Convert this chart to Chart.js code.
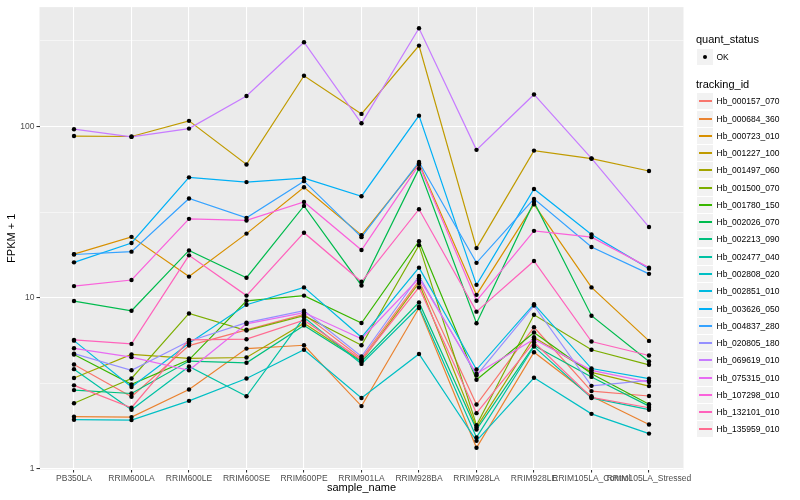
<!DOCTYPE html>
<html><head><meta charset="utf-8">
<script src="https://cdn.jsdelivr.net/npm/chart.js@4"></script>
<style>
html,body{margin:0;padding:0;background:#fff;}
#wrap{position:relative;width:800px;height:500px;font-family:"Liberation Sans",Arial,sans-serif;overflow:hidden;}
#c{position:absolute;left:0;top:0;}
.lg{position:absolute;white-space:nowrap;}
</style></head><body>
<div id="wrap"><canvas id="c" width="800" height="500"></canvas><div id="legend"></div></div>
<script>
const categories = ["PB350LA","RRIM600LA","RRIM600LE","RRIM600SE","RRIM600PE","RRIM901LA","RRIM928BA","RRIM928LA","RRIM928LE","RRIM105LA_Control","RRIM105LA_Stressed"];
const trackingIds = ["Hb_000157_070","Hb_000684_360","Hb_000723_010","Hb_001227_100","Hb_001497_060","Hb_001500_070","Hb_001780_150","Hb_002026_070","Hb_002213_090","Hb_002477_040","Hb_002808_020","Hb_002851_010","Hb_003626_050","Hb_004837_280","Hb_020805_180","Hb_069619_010","Hb_075315_010","Hb_107298_010","Hb_132101_010","Hb_135959_010"];
const seriesColors = ["#F8766D","#EA8331","#D89000","#C09B00","#A3A500","#7CAE00","#39B600","#00BB4E","#00BF7D","#00C1A3","#00BFC4","#00BAE0","#00B0F6","#35A2FF","#9590FF","#C77CFF","#E76BF3","#FA62DB","#FF62BC","#FF6C91"];

const Hb_000157_070 = [4.08, 2.64, 5.26, 6.5, 8.0, 4.42, 12.6, 2.38, 6.73, 2.85, 2.67];
const Hb_000684_360 = [2.02, 2.01, 2.91, 5.05, 5.28, 2.33, 8.71, 1.33, 4.81, 2.66, 1.82];
const Hb_000723_010 = [18.0, 22.7, 13.3, 23.7, 44.2, 23.2, 61, 10.4, 35.1, 11.5, 5.6];
const Hb_001227_100 = [88, 87.5, 108, 60.1, 198, 118.6, 297, 19.5, 72.4, 64.9, 55];
const Hb_001497_060 = [3.40, 4.67, 4.43, 4.48, 7.1, 4.28, 12.2, 1.75, 5.88, 3.67, 3.05];
const Hb_001500_070 = [2.42, 3.38, 8.1, 6.43, 7.86, 5.28, 20.3, 1.80, 7.96, 4.97, 4.06];
const Hb_001780_150 = [4.66, 3.12, 4.34, 9.6, 10.3, 7.12, 21.4, 3.32, 6.27, 3.60, 2.39];
const Hb_002026_070 = [9.57, 8.4, 18.9, 13.1, 34.4, 11.8, 56.8, 7.1, 36.3, 7.86, 4.25];
const Hb_002213_090 = [2.89, 2.76, 4.27, 4.17, 6.9, 4.23, 9.4, 1.70, 5.26, 3.45, 2.33];
const Hb_002477_040 = [3.83, 2.22, 3.97, 2.66, 7.69, 4.11, 8.87, 1.53, 5.19, 2.60, 2.22];
const Hb_002808_020 = [1.94, 1.93, 2.50, 3.38, 4.97, 2.60, 4.70, 1.46, 3.41, 2.10, 1.61];
const Hb_002851_010 = [5.62, 3.01, 5.43, 9.1, 11.5, 5.88, 15.0, 3.81, 9.18, 3.86, 3.37];
const Hb_003626_050 = [16.1, 20.9, 50.5, 47.4, 50, 39.2, 115.8, 11.9, 43.2, 23.4, 14.8];
const Hb_004837_280 = [17.9, 18.6, 38.0, 29.3, 48, 22.6, 62.1, 16.0, 37.8, 19.8, 13.8];
const Hb_020805_180 = [4.72, 3.77, 5.57, 7.16, 8.4, 4.54, 13.4, 3.52, 9.0, 3.06, 3.29];
const Hb_069619_010 = [96.5, 87, 97.3, 150.8, 311, 104.5, 375, 73.1, 154, 65.2, 25.9];
const Hb_075315_010 = [5.07, 4.50, 3.77, 7.04, 8.2, 5.77, 13.0, 3.60, 5.73, 3.77, 3.22];
const Hb_107298_010 = [11.7, 12.7, 28.9, 28.3, 36.3, 19.0, 59.8, 9.6, 24.6, 22.6, 15.0];
const Hb_132101_010 = [5.68, 5.38, 17.7, 10.3, 24.0, 12.4, 32.9, 8.3, 16.4, 5.55, 4.60];
const Hb_135959_010 = [3.08, 2.28, 5.68, 5.73, 7.4, 4.34, 11.5, 2.12, 5.5, 2.62, 2.28];

const seriesValues = [Hb_000157_070, Hb_000684_360, Hb_000723_010, Hb_001227_100, Hb_001497_060, Hb_001500_070, Hb_001780_150, Hb_002026_070, Hb_002213_090, Hb_002477_040, Hb_002808_020, Hb_002851_010, Hb_003626_050, Hb_004837_280, Hb_020805_180, Hb_069619_010, Hb_075315_010, Hb_107298_010, Hb_132101_010, Hb_135959_010];

const yMajorTicks = [1, 10, 100];
const yMinorTicks = [3.1623, 31.623, 316.23];
const yLimits = [0.9933, 498.6];

const FAMILY = '"Liberation Sans", Arial, sans-serif';
const isMajorY = v => yMajorTicks.some(m => Math.abs(m - v) < 1e-6);

const panelBg = {
  id: 'panelBg',
  beforeDraw(chart) {
    const {ctx, chartArea: a} = chart;
    ctx.save();
    ctx.fillStyle = '#EBEBEB';
    ctx.fillRect(a.left, a.top, a.right - a.left, a.bottom - a.top);
    ctx.restore();
  }
};

const lineSets = seriesValues.map((vals, i) => ({
  type: 'line',
  label: trackingIds[i],
  data: vals.map((v, j) => ({x: j, y: v})),
  borderColor: seriesColors[i],
  backgroundColor: seriesColors[i],
  borderWidth: 1.2,
  pointRadius: 0,
  fill: false,
  tension: 0,
  order: 100 - i
}));
const pointSets = seriesValues.map((vals, i) => ({
  type: 'scatter',
  label: trackingIds[i] + ' OK',
  data: vals.map((v, j) => ({x: j, y: v})),
  backgroundColor: '#000000',
  borderColor: '#000000',
  pointRadius: 2.2,
  pointBorderWidth: 0,
  showLine: false,
  order: 0
}));

new Chart(document.getElementById('c'), {
  type: 'line',
  data: { datasets: lineSets.concat(pointSets) },
  plugins: [panelBg],
  options: {
    responsive: false,
    animation: false,
    events: [],
    layout: { padding: { left: 0, top: 5, right: 116.5, bottom: 0 } },
    plugins: { legend: { display: false }, tooltip: { enabled: false } },
    scales: {
      x: {
        type: 'linear',
        min: -0.6, max: 10.6,
        afterBuildTicks: s => { s.ticks = categories.map((c, i) => ({value: i})); },
        afterFit: s => { s.height = 30.5; },
        ticks: { autoSkip: false, maxRotation: 0, minRotation: 0, color: '#4D4D4D', padding: 1,
          font: { size: 8.5, family: FAMILY },
          callback: v => categories[v] !== undefined ? categories[v] : '' },
        grid: { color: '#FFFFFF', lineWidth: 1.07, tickColor: '#333333', tickLength: 3, tickWidth: 1.07, drawTicks: true },
        border: { display: false },
        title: { display: true, text: 'sample_name', color: '#000000', font: { size: 11, family: FAMILY }, padding: { top: 0, bottom: 5 } }
      },
      y: {
        type: 'logarithmic',
        min: yLimits[0], max: yLimits[1],
        afterBuildTicks: s => { s.ticks = yMajorTicks.concat(yMinorTicks).sort((a, b) => a - b).map(v => ({value: v})); },
        afterFit: s => { s.width = 39.5; },
        ticks: { autoSkip: false, color: '#4D4D4D', padding: 2,
          font: { size: 8.5, family: FAMILY },
          callback: v => isMajorY(v) ? String(Math.round(v)) : '' },
        grid: { color: '#FFFFFF',
          lineWidth: ctx => (ctx.tick && isMajorY(ctx.tick.value)) ? 1.07 : 0.53,
          tickColor: ctx => (ctx.tick && isMajorY(ctx.tick.value)) ? '#333333' : 'rgba(0,0,0,0)',
          tickLength: 3, tickWidth: 1.07, drawTicks: true },
        border: { display: false },
        title: { display: true, text: 'FPKM + 1', color: '#000000', font: { size: 11, family: FAMILY }, padding: { top: 5.4, bottom: 0 } }
      }
    }
  }
});

// legend (ggplot style, right side)
const lg = document.getElementById('legend');
function addText(txt, x, cy, size, color) {
  const d = document.createElement('div');
  d.className = 'lg';
  d.textContent = txt;
  d.style.left = x + 'px';
  d.style.top = (cy - size * 0.6) + 'px';
  d.style.fontSize = size + 'px';
  d.style.lineHeight = (size * 1.2) + 'px';
  d.style.color = color;
  lg.appendChild(d);
}
function addBox(x, y, w, h) {
  const d = document.createElement('div');
  d.className = 'lg';
  d.style.left = x + 'px'; d.style.top = y + 'px';
  d.style.width = w + 'px'; d.style.height = h + 'px';
  d.style.background = '#F2F2F2';
  lg.appendChild(d);
  return d;
}
addText('quant_status', 696, 40, 11, '#000');
const okBox = addBox(697, 49, 16, 16);
const dot = document.createElement('div');
dot.style.cssText = 'position:absolute;left:6px;top:6px;width:4px;height:4px;border-radius:50%;background:#000;';
okBox.appendChild(dot);
addText('OK', 716.5, 57.3, 8.5, '#000');
addText('tracking_id', 696, 84.3, 11, '#000');
trackingIds.forEach((id, i) => {
  const cy = 101.3 + 17.27 * i;
  const top = Math.round(cy - 8);
  const b = addBox(697, top, 16, 16);
  const ln = document.createElement('div');
  ln.style.cssText = 'position:absolute;left:1.5px;width:13px;top:7px;height:1.5px;background:' + seriesColors[i] + ';';
  b.appendChild(ln);
  addText(id, 716.5, top + 8, 8.5, '#000');
});
</script>
</body></html>
